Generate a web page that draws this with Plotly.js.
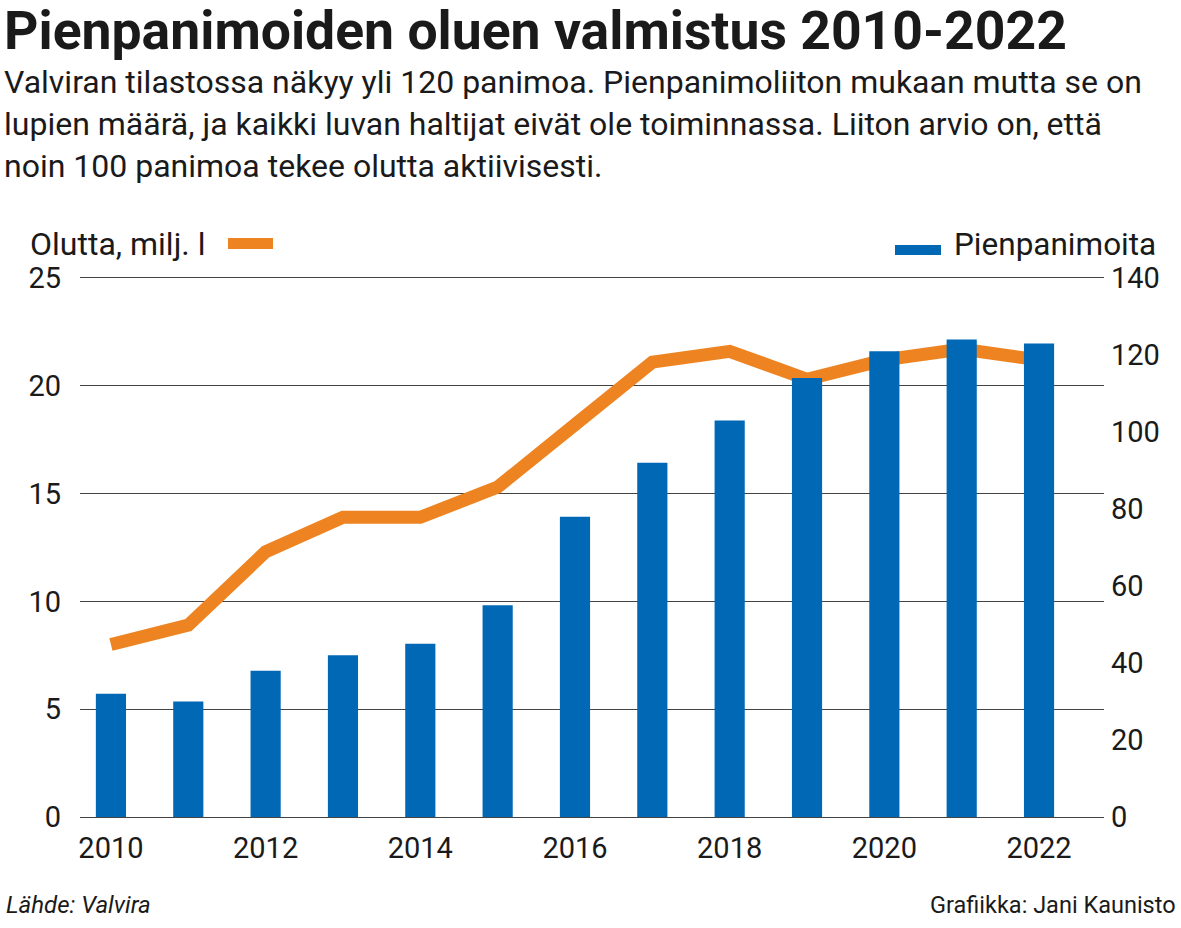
<!DOCTYPE html>
<html>
<head>
<meta charset="utf-8">
<script src="https://cdn.plot.ly/plotly-3.0.1.min.js"></script>
<style>
html,body{margin:0;padding:0;background:#fff;}
#chart{width:1181px;height:928px;}
</style>
</head>
<body>
<div id="chart"></div>
<script>
// ---- data ----
const years = [2010, 2011, 2012, 2013, 2014, 2015, 2016, 2017, 2018, 2019, 2020, 2021, 2022];
const beerMillionLitres = [8.0, 8.9, 12.3, 13.9, 13.9, 15.3, 18.2, 21.1, 21.6, 20.3, 21.2, 21.7, 21.2];
const microbreweries = [32, 30, 38, 42, 45, 55, 78, 92, 103, 114, 121, 124, 123];
const xTickYears = [2010, 2012, 2014, 2016, 2018, 2020, 2022];
const leftTicks = [0, 5, 10, 15, 20, 25];
const rightTicks = [0, 20, 40, 60, 80, 100, 120, 140];

const titleText = 'Pienpanimoiden oluen valmistus 2010-2022';
const subtitleLines = [
  'Valviran tilastossa näkyy yli 120 panimoa. Pienpanimoliiton mukaan mutta se on',
  'lupien määrä, ja kaikki luvan haltijat eivät ole toiminnassa. Liiton arvio on, että',
  'noin 100 panimoa tekee olutta aktiivisesti.'
];
const beerLabel = 'Olutta, milj. l';
const breweryLabel = 'Pienpanimoita';
const sourceText = 'Lähde: Valvira';
const creditText = 'Grafiikka: Jani Kaunisto';

const BLUE = '#0068b4';
const ORANGE = '#ee8421';
const TXT = '#1a1a1a';
const FONT = 'Roboto, "Open Sans", sans-serif';

// plot area in pixels: x 80..1104, y 278..817
const L = 80, R = 1104, T = 278, B = 817;
const px = x => (x - L) / (R - L);
const py = y => (B - y) / (B - T);

const traces = [
  {
    type: 'bar', x: years, y: microbreweries, yaxis: 'y2',
    marker: {color: BLUE}, width: 0.39, hoverinfo: 'x+y', name: breweryLabel
  },
  {
    type: 'scatter', mode: 'lines', x: years, y: beerMillionLitres, yaxis: 'y',
    line: {color: ORANGE, width: 13}, name: beerLabel
  }
];

const anns = [];
anns.push({xref:'paper', yref:'paper', x: px(2), y: py(31), xanchor:'left', yanchor:'middle',
  text: '<b>' + titleText + '</b>', showarrow:false,
  font:{family: FONT, size: 53.5, color: TXT}});
subtitleLines.forEach((s, i) => {
  anns.push({xref:'paper', yref:'paper', x: px(2), y: py(82 + i * 42), xanchor:'left', yanchor:'middle',
    text: s, showarrow:false, font:{family: FONT, size: 32, color: TXT}});
});
anns.push({xref:'paper', yref:'paper', x: px(28), y: py(244), xanchor:'left', yanchor:'middle',
  text: beerLabel, showarrow:false, font:{family: FONT, size: 32, color: TXT}});
anns.push({xref:'paper', yref:'paper', x: px(952), y: py(245), xanchor:'left', yanchor:'middle',
  text: breweryLabel, showarrow:false, font:{family: FONT, size: 31.5, color: TXT}});
anns.push({xref:'paper', yref:'paper', x: px(4), y: py(905), xanchor:'left', yanchor:'middle',
  text: '<i>' + sourceText + '</i>', showarrow:false, font:{family: FONT, size: 24, color: TXT}});
anns.push({xref:'paper', yref:'paper', x: px(1178), y: py(905), xanchor:'right', yanchor:'middle',
  text: creditText, showarrow:false, font:{family: FONT, size: 23.5, color: TXT}});

const shapes = [
  {type:'rect', xref:'paper', yref:'paper', x0: px(228), x1: px(273), y0: py(249), y1: py(238),
   fillcolor: ORANGE, line:{width:0}},
  {type:'rect', xref:'paper', yref:'paper', x0: px(895), x1: px(941), y0: py(255), y1: py(245),
   fillcolor: BLUE, line:{width:0}}
];

const layout = {
  width: 1181, height: 928,
  margin: {l: L, r: 1181 - R, t: T, b: 928 - B, pad: 0},
  paper_bgcolor: '#fff', plot_bgcolor: '#fff',
  showlegend: false,
  font: {family: FONT, color: TXT},
  xaxis: {
    type: 'linear', range: [2009.6, 2022.84],
    tickmode: 'array', tickvals: xTickYears, ticktext: xTickYears.map(String),
    showgrid: false, zeroline: false,
    showline: true, mirror: true, linecolor: '#444', linewidth: 1.4,
    ticks: '',
    tickfont: {size: 29, color: TXT}, ticklabelstandoff: 5
  },
  yaxis: {
    range: [0, 25], tickmode: 'array', tickvals: leftTicks,
    showgrid: true, gridcolor: '#444', gridwidth: 1.4,
    zeroline: false, showline: false, ticks: '',
    tickfont: {size: 29, color: TXT}, ticklabelstandoff: 18
  },
  yaxis2: {
    range: [0, 140], overlaying: 'y', side: 'right', tickmode: 'array', tickvals: rightTicks,
    showgrid: false, zeroline: false, showline: false, ticks: '',
    tickfont: {size: 29, color: TXT}, ticklabelstandoff: 6
  },
  annotations: anns,
  shapes: shapes
};

Plotly.newPlot('chart', traces, layout, {displayModeBar: false, staticPlot: true});
</script>
</body>
</html>
